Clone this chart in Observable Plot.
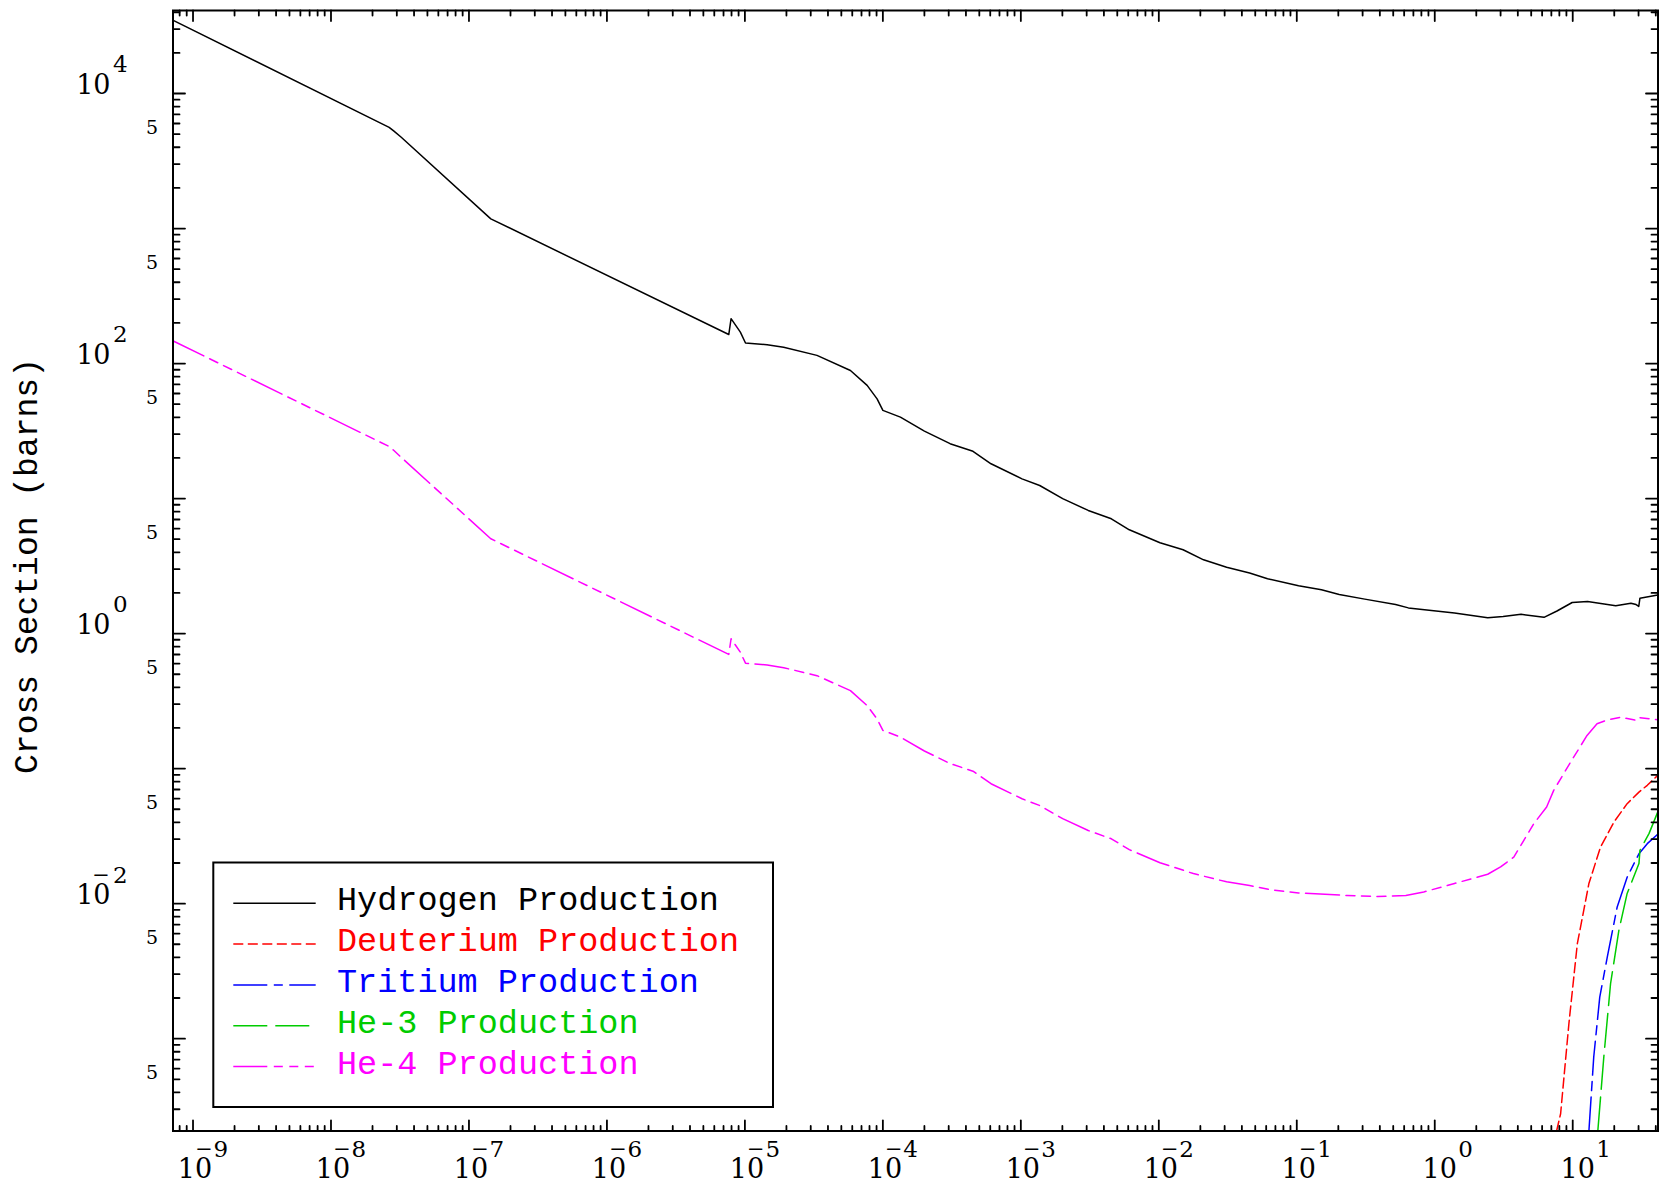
<!DOCTYPE html>
<html>
<head>
<meta charset="utf-8">
<script src="https://cdn.jsdelivr.net/npm/d3@7"></script>
<script src="https://cdn.jsdelivr.net/npm/@observablehq/plot@0.6"></script>
<style>
  html, body { margin: 0; padding: 0; background: #ffffff; }
</style>
</head>
<body>
<script>
// ---------------- Data ----------------
const hydrogenX = [7.19e-10, 2.64e-8, 2.86e-8, 3.23e-8, 1.44e-7, 7.64e-6, 7.94e-6, 9.27e-6, 1.01e-5, 1.45e-5,
  1.91e-5, 3.33e-5, 5.82e-5, 7.69e-5, 9.08e-5, 1.00e-4, 1.34e-4, 2.00e-4, 3.07e-4, 4.50e-4,
  6.08e-4, 1.02e-3, 1.37e-3, 2.01e-3, 3.08e-3, 4.53e-3, 6.11e-3, 1.02e-2, 1.50e-2, 2.11e-2,
  3.10e-2, 4.55e-2, 6.14e-2, 0.103, 0.151, 0.203, 0.311, 0.520, 0.644, 1.39,
  2.42, 3.13, 4.22, 6.19, 7.69, 9.91, 12.8, 20.5, 26.4, 28.8, 30.1, 30.7, 41.3];
const hydrogenY = [3.48e4, 5620, 5260, 4740, 1180, 164, 215, 171, 142, 138,
  132, 115, 88.9, 68.9, 54.8, 45.0, 40.1, 31.6, 25.5, 22.4,
  18.1, 14.0, 12.5, 9.98, 8.17, 7.08, 5.87, 4.71, 4.18, 3.52,
  3.10, 2.81, 2.55, 2.26, 2.11, 1.95, 1.80, 1.64, 1.55, 1.42,
  1.31, 1.34, 1.39, 1.32, 1.47, 1.70, 1.73, 1.61, 1.68, 1.64, 1.59, 1.83, 1.93];

const deuteriumX = [7.64, 8.17, 9.38, 10.8, 13.1, 15.9, 19.9, 24.8, 30.2, 34.7, 41.3];
const deuteriumY = [2.07e-4, 2.78e-4, 1.29e-3, 5.05e-3, 0.0141, 0.0262, 0.0402, 0.0550, 0.0670, 0.0752, 0.0891];

const tritiumX = [13.1, 14.2, 15.7, 17.8, 21.0, 24.8, 30.2, 34.7, 41.3];
const tritiumY = [2.07e-4, 7.31e-4, 2.03e-3, 4.02e-3, 9.44e-3, 0.0157, 0.0234, 0.0278, 0.0326];

const he3X = [15.2, 16.8, 18.8, 21.6, 24.8, 30.2, 30.7, 35.7, 41.3];
const he3Y = [2.07e-4, 7.31e-4, 2.55e-3, 6.34e-3, 0.0119, 0.0198, 0.0248, 0.0330, 0.0476];

const he4X = [7.19e-10, 2.64e-8, 2.86e-8, 3.23e-8, 1.44e-7, 7.64e-6, 7.94e-6, 9.27e-6, 1.01e-5, 1.45e-5,
  1.91e-5, 3.33e-5, 5.82e-5, 7.69e-5, 9.08e-5, 1.00e-4, 1.34e-4, 2.00e-4, 3.07e-4, 4.50e-4,
  6.08e-4, 1.02e-3, 1.37e-3, 2.01e-3, 3.08e-3, 4.53e-3, 6.11e-3, 1.02e-2, 1.78e-2, 3.10e-2,
  4.55e-2, 6.40e-2, 0.103, 0.231, 0.385, 0.617, 0.832, 1.39, 2.42, 3.00,
  3.74, 5.22, 6.47, 7.28, 9.51, 12.7, 15.0, 18.0, 22.2, 28.8, 30.1, 41.3];
const he4Y = [147, 24.3, 22.7, 20.2, 5.04, 0.701, 0.916, 0.728, 0.604, 0.585,
  0.559, 0.488, 0.378, 0.293, 0.233, 0.192, 0.171, 0.135, 0.109, 0.0957,
  0.0773, 0.0598, 0.0533, 0.0426, 0.0348, 0.0302, 0.0251, 0.0201, 0.0167, 0.0145,
  0.0136, 0.0127, 0.0120, 0.0115, 0.0113, 0.0115, 0.0122, 0.0141, 0.0165, 0.0187,
  0.0221, 0.0391, 0.0519, 0.0690, 0.109, 0.176, 0.215, 0.230, 0.240, 0.228, 0.239, 0.230];

const seriesNames = ["Hydrogen Production", "Deuterium Production", "Tritium Production", "He-3 Production", "He-4 Production"];
const seriesColors = ["#000000", "#ff0000", "#0000ff", "#00cc00", "#ff00ff"];
const seriesDash = [null, "10,4.5", "34,6.5,9,6.5", "34,8", "34,6.5,9,6.5,9,6.5,9,6.5"];
const seriesX = [hydrogenX, deuteriumX, tritiumX, he3X, he4X];
const seriesY = [hydrogenY, deuteriumY, tritiumY, he3Y, he4Y];

const xLabelExponents = [-9, -8, -7, -6, -5, -4, -3, -2, -1, 0, 1];
const yLabelExponents = [4, 2, 0, -2];
const yFiveValues = [5e3, 5e2, 5e1, 5, 0.5, 0.05, 5e-3, 5e-4];

const xDomain = [7.16e-10, 41.5];
const yDomain = [2.07e-4, 4.12e4];
const yTitle = "Cross Section (barns)";

// ---------------- Derived tables ----------------
const rows = seriesX.flatMap((xs, i) => xs.map((x, j) => ({x, y: seriesY[i][j], s: i})));

function logTicks(domain) {
  const major = [], minor = [];
  const lo = Math.floor(Math.log10(domain[0])), hi = Math.ceil(Math.log10(domain[1]));
  for (let n = lo; n <= hi; n++) {
    for (let k = 1; k <= 9; k++) {
      const v = k * Math.pow(10, n);
      if (v < domain[0] || v > domain[1]) continue;
      (k === 1 ? major : minor).push(v);
    }
  }
  return {major, minor};
}
const xt = logTicks(xDomain), yt = logTicks(yDomain);
const xLab = xLabelExponents.map(e => ({v: Math.pow(10, e), e}));
const yLab = yLabelExponents.map(e => ({v: Math.pow(10, e), e}));

const tickShape = {draw(context, l) { context.moveTo(0, 0); context.lineTo(0, -l); }};
const serif = "DejaVu Serif";
const mono = "Liberation Mono";

function ticks(kind, values, len) {
  const common = {length: len, anchor: "start", shape: tickShape, stroke: "black", strokeWidth: 1.8};
  if (kind === "bottom") return Plot.vectorX(values, {...common, frameAnchor: "bottom", rotate: 0});
  if (kind === "top") return Plot.vectorX(values, {...common, frameAnchor: "top", rotate: 180});
  if (kind === "left") return Plot.vectorY(values, {...common, frameAnchor: "left", rotate: 90});
  return Plot.vectorY(values, {...common, frameAnchor: "right", rotate: -90});
}

const lineMarks = seriesNames.map((name, i) => Plot.line(rows.filter(r => r.s === i), {
  x: "x", y: "y", stroke: seriesColors[i], strokeWidth: 1.5,
  strokeDasharray: seriesDash[i] || undefined, clip: true
}));

const svg = Plot.plot({
  width: 1663,
  height: 1196,
  marginLeft: 172.5,
  marginRight: 5.5,
  marginTop: 10,
  marginBottom: 65.5,
  style: {background: "#ffffff", color: "black"},
  x: {type: "log", domain: xDomain, axis: null},
  y: {type: "log", domain: yDomain, axis: null},
  marks: [
    ...lineMarks,
    ticks("bottom", xt.major, 10.5), ticks("bottom", xt.minor, 5),
    ticks("top", xt.major, 10.5), ticks("top", xt.minor, 5),
    ticks("left", yt.major, 12), ticks("left", yt.minor, 6.5),
    ticks("right", yt.major, 12), ticks("right", yt.minor, 6.5),
    Plot.frame({stroke: "black", strokeWidth: 2}),
    // x tick labels
    Plot.text(xLab.filter(d => d.e < 0), {x: "v", frameAnchor: "bottom", text: () => "10", dx: 2, dy: 47,
      fontFamily: serif, fontSize: 27, textAnchor: "middle"}),
    Plot.text(xLab.filter(d => d.e >= 0), {x: "v", frameAnchor: "bottom", text: () => "10", dx: 5, dy: 47,
      fontFamily: serif, fontSize: 27, textAnchor: "middle"}),
    Plot.text(xLab.filter(d => d.e < 0), {x: "v", frameAnchor: "bottom", text: d => String(Math.abs(d.e)), dx: 20.5, dy: 26,
      fontFamily: serif, fontSize: 23, textAnchor: "start"}),
    Plot.text(xLab.filter(d => d.e >= 0), {x: "v", frameAnchor: "bottom", text: d => String(d.e), dx: 23.5, dy: 26,
      fontFamily: serif, fontSize: 23, textAnchor: "start"}),
    Plot.text(xLab.filter(d => d.e < 0), {x: "v", frameAnchor: "bottom", text: () => "\u2212", dx: 11, dy: 25,
      fontFamily: serif, fontSize: 21, textAnchor: "middle"}),
    // y tick labels
    Plot.text(yLab, {y: "v", frameAnchor: "left", text: () => "10", dx: -62.5, dy: -8.5,
      fontFamily: serif, fontSize: 27, textAnchor: "end"}),
    Plot.text(yLab, {y: "v", frameAnchor: "left", text: d => String(Math.abs(d.e)), dx: -60, dy: -28.5,
      fontFamily: serif, fontSize: 23, textAnchor: "start"}),
    Plot.text(yLab.filter(d => d.e < 0), {y: "v", frameAnchor: "left", text: () => "\u2212", dx: -72, dy: -28.5,
      fontFamily: serif, fontSize: 21, textAnchor: "middle"}),
    Plot.text(yFiveValues, {y: d => d, frameAnchor: "left", text: () => "5", dx: -15, dy: -6,
      fontFamily: serif, fontSize: 19, textAnchor: "end"})
  ]
});

document.body.appendChild(svg);

// ---------------- Axis title and legend (layout) ----------------
const root = d3.select(svg);
root.append("text")
  .attr("transform", "translate(37,566) rotate(-90)")
  .attr("text-anchor", "middle")
  .attr("font-family", mono)
  .attr("font-size", 33)
  .attr("fill", "black")
  .text(yTitle);

const legend = root.append("g").attr("text-anchor", "start");
legend.append("rect")
  .attr("x", 213.3).attr("y", 862.5).attr("width", 559.7).attr("height", 244.5)
  .attr("fill", "white").attr("stroke", "black").attr("stroke-width", 2);
seriesNames.forEach((name, i) => {
  const ly = 903.3 + i * 40.8;
  legend.append("line")
    .attr("x1", 233.3).attr("x2", 315.7).attr("y1", ly).attr("y2", ly)
    .attr("stroke", seriesColors[i]).attr("stroke-width", 1.5)
    .attr("stroke-dasharray", seriesDash[i]);
  legend.append("text")
    .attr("x", 337).attr("y", ly + 7)
    .attr("text-anchor", "start")
    .attr("font-family", mono).attr("font-size", 33.5)
    .attr("fill", seriesColors[i])
    .text(name);
});
</script>
</body>
</html>
